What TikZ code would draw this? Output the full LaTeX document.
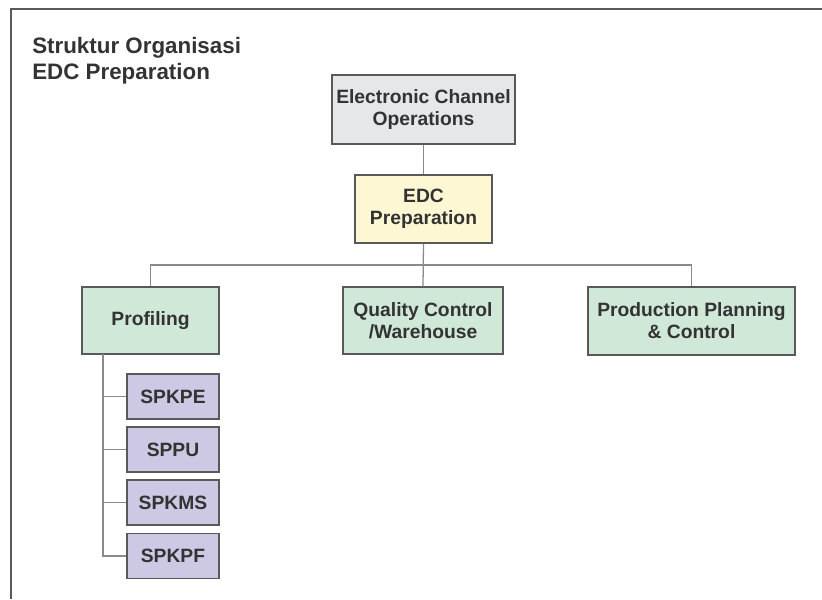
\documentclass[tikz,border=0pt]{standalone}
\usepackage{fontspec}
\setmainfont{Liberation Sans}
\usetikzlibrary{calc}

\definecolor{boxline}{HTML}{595959}
\definecolor{wireline}{HTML}{8A8A8A}
\definecolor{textgray}{HTML}{333333}
\definecolor{headfill}{HTML}{E6E7E8}
\definecolor{edcfill}{HTML}{FDF8D3}
\definecolor{unitfill}{HTML}{CFE8D8}
\definecolor{subfill}{HTML}{CDC9E4}

\tikzset{
  unit/.style={draw=boxline, line width=0.9pt, align=center, inner sep=0pt,
    text=textgray, font=\fontsize{13.7}{15.6}\selectfont\bfseries},
  wire/.style={draw=wireline, line width=0.9pt},
  subunit/.style={unit, fill=subfill, minimum width=2.3cm, minimum height=1.125cm}
}

\begin{document}
\begin{tikzpicture}[x=0.025cm, y=-0.025cm]
  \useasboundingbox (0,0) rectangle (822,599);
  % frame
  \draw[boxline, line width=1.3pt] (11,599) -- (11,9) -- (822,9);
  % title
  \node[anchor=north west, align=left, inner sep=0pt, text=textgray,
    font=\fontsize{15.9}{17.8}\selectfont\bfseries] (title) at (32,37.5)
    {Struktur Organisasi\\EDC Preparation};
  % head and department
  \node[unit, fill=headfill, minimum width=4.575cm, minimum height=1.725cm] (eco) at (423.5,109.5)
    {Electronic Channel\\Operations};
  \node[unit, fill=edcfill, minimum width=3.425cm, minimum height=1.7cm] (edc) at (423.5,209)
    {EDC\\Preparation};
  % sections
  \node[unit, fill=unitfill, minimum width=3.425cm, minimum height=1.675cm] (prof) at (150.5,320.5)
    {Profiling};
  \node[unit, fill=unitfill, minimum width=4cm, minimum height=1.675cm] (qc) at (423,320.5)
    {Quality Control\\/Warehouse};
  \node[unit, fill=unitfill, minimum width=5.175cm, minimum height=1.7cm] (ppc) at (691.5,321)
    {Production Planning\\\& Control};
  % sub units of profiling
  \node[subunit] (spkpe) at (173,396.5) {SPKPE};
  \node[subunit] (sppu) at (173,449.5) {SPPU};
  \node[subunit] (spkms) at (173,502.5) {SPKMS};
  \node[subunit] (spkpf) at (173,556) {SPKPF};
  % connectors
  \coordinate (bus) at (423.5,265);
  \coordinate (trunk) at (103,354);
  \draw[wire] (eco.south) -- (edc.north);
  \draw[wire] (edc.south) -- (qc.north);
  \draw[wire] (prof.north) |- (bus) -| (ppc.north);
  \draw[wire] (trunk) |- (spkpf.west);
  \foreach \s in {spkpe,sppu,spkms}
    \draw[wire] (\s.west) -- (\s.west -| trunk);
\end{tikzpicture}
\end{document}
